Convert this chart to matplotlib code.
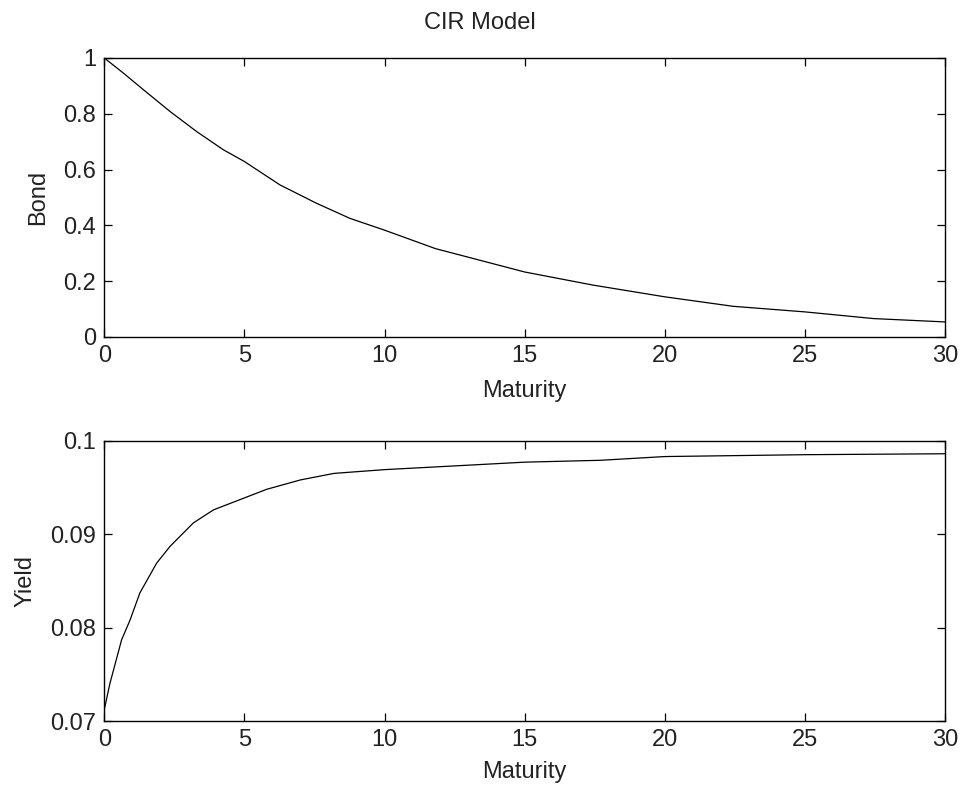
import matplotlib
matplotlib.use('Agg')
import matplotlib.pyplot as plt

# bond price readings (maturity, price)
bond_maturity = [0, 0.68, 1.4, 2.35, 3.3, 4.25, 5, 6.27, 7.58, 8.77, 10,
                 11.81, 15, 17.44, 20, 22.44, 25, 27.45, 30]
bond_price = [1.0, 0.946, 0.886, 0.808, 0.736, 0.671, 0.629, 0.545, 0.479, 0.425, 0.383,
              0.317, 0.233, 0.186, 0.144, 0.110, 0.090, 0.066, 0.054]

# yield readings (maturity, yield)
yield_maturity = [0, 0.2, 0.62, 0.92, 1.27, 1.87, 2.35, 3.18, 3.9, 4.85, 5.8, 7, 8.2,
                  10, 15, 17.7, 20, 25, 30]
yield_value = [0.0712, 0.0740, 0.0787, 0.0808, 0.0837, 0.0869, 0.0887, 0.0912, 0.0926,
               0.0937, 0.0948, 0.0958, 0.0965, 0.0969, 0.0977, 0.0979, 0.0983, 0.0985, 0.0986]

x_ticks = [0, 5, 10, 15, 20, 25, 30]
bond_ticks = [0, 0.2, 0.4, 0.6, 0.8, 1]
bond_tick_labels = ['0', '0.2', '0.4', '0.6', '0.8', '1']
yield_ticks = [0.07, 0.08, 0.09, 0.1]
yield_tick_labels = ['0.07', '0.08', '0.09', '0.1']

plt.rcParams['font.family'] = ['Liberation Sans', 'DejaVu Sans']
plt.rcParams['font.size'] = 17

fig = plt.figure(figsize=(9.6, 7.92), dpi=100)
ax1 = fig.add_axes([0.1086, 0.5745, 0.8758, 0.3523])
ax2 = fig.add_axes([0.1086, 0.0896, 0.8758, 0.3540])


def style(ax, xpad):
    ax.set_xlim(0, 30)
    ax.set_xticks(x_ticks)
    ax.tick_params(direction='in', length=6, width=0.9, top=True, right=True,
                   pad=6, colors='black', labelcolor='#222222')
    for s in ax.spines.values():
        s.set_linewidth(1.0)
    ax.set_xlabel('Maturity', color='#222222', labelpad=xpad)


ax1.plot(bond_maturity, bond_price, color='black', linewidth=0.9)
style(ax1, 9)
ax1.set_ylim(0, 1)
ax1.set_yticks(bond_ticks)
ax1.set_yticklabels(bond_tick_labels)
ax1.set_ylabel('Bond', color='#222222', labelpad=10)

ax2.plot(yield_maturity, yield_value, color='black', linewidth=0.9)
style(ax2, 7)
ax2.set_ylim(0.07, 0.1)
ax2.set_yticks(yield_ticks)
ax2.set_yticklabels(yield_tick_labels)
ax2.set_ylabel('Yield', color='#222222', labelpad=10)

fig.suptitle('CIR Model', x=0.5, y=0.985, va='top', color='#222222', fontsize=17)

fig.savefig('out.png', dpi=100)
